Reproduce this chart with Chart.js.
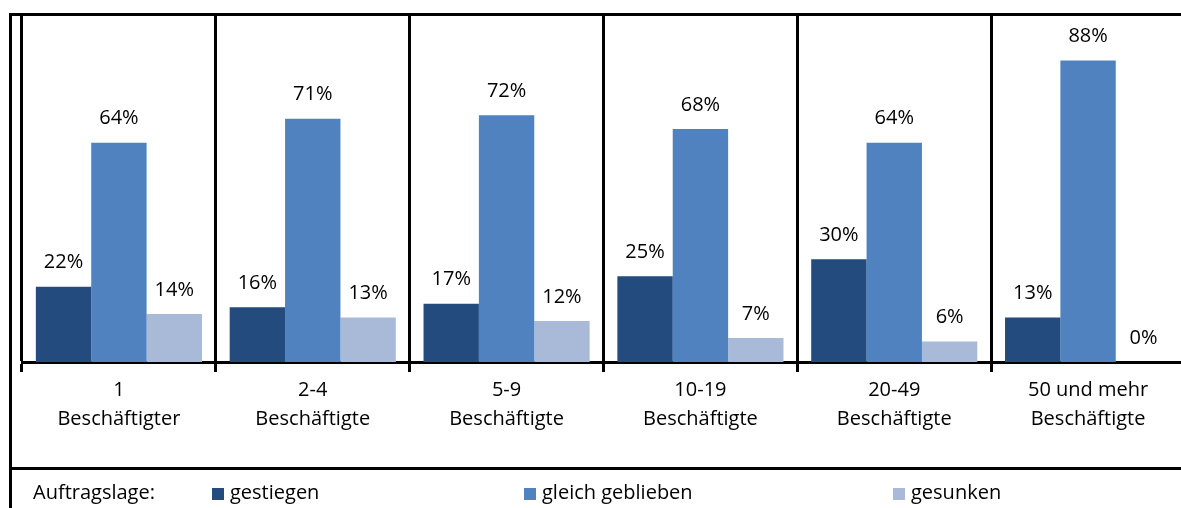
<!DOCTYPE html>
<html>
<head>
<meta charset="utf-8">
<script src="https://cdn.jsdelivr.net/npm/chart.js@4"></script>
<style>
  body { margin: 0; width: 1181px; height: 508px; overflow: hidden; background: #fff; position: relative; font-family: "Open Sans", sans-serif; }
  #chart { position: absolute; left: 0; top: 0; }
  .line { position: absolute; background: #000; }
  .legend-title, .legend-item { position: absolute; top: 478px; font-size: 20px; line-height: 28px; color: #000; white-space: nowrap; }
  .legend-item span { display: inline-block; width: 12px; height: 12px; margin-right: 6px; vertical-align: -1px; }
</style>
</head>
<body>
<canvas id="chart" width="1200" height="508"></canvas>
<div class="line" style="left:9px;top:13px;width:1200px;height:3px"></div>
<div class="line" style="left:9px;top:13px;width:3px;height:500px"></div>
<div class="line" style="left:9px;top:467px;width:1200px;height:3px"></div>
<div class="legend-title" style="left:33px">Auftragslage:</div>
<div id="legend"></div>
<script>
// Beschäftigtengrößenklassen
const categories = [
  ['1', 'Beschäftigter'],
  ['2-4', 'Beschäftigte'],
  ['5-9', 'Beschäftigte'],
  ['10-19', 'Beschäftigte'],
  ['20-49', 'Beschäftigte'],
  ['50 und mehr', 'Beschäftigte']
];
const seriesNames = ['gestiegen', 'gleich geblieben', 'gesunken'];
const gestiegen = [22, 16, 17, 25, 30, 13];
const gleichGeblieben = [64, 71, 72, 68, 64, 88];
const gesunken = [14, 13, 12, 7, 6, 0];

const colors = ['#234b7e', '#4f82be', '#a9bad9'];
const legendLeft = [212, 524, 893]; // x-Position der Legendeneinträge

const valueLabels = {
  id: 'valueLabels',
  afterDatasetsDraw(chart) {
    const ctx = chart.ctx;
    ctx.save();
    ctx.font = '20px "Open Sans"';
    ctx.fillStyle = '#000';
    ctx.textAlign = 'center';
    ctx.textBaseline = 'middle';
    chart.data.datasets.forEach((ds, i) => {
      chart.getDatasetMeta(i).data.forEach((bar, j) => {
        ctx.fillText(ds.data[j] + '%', bar.x, bar.y - 24);
      });
    });
    ctx.restore();
  }
};

new Chart(document.getElementById('chart').getContext('2d'), {
  type: 'bar',
  data: {
    labels: categories,
    datasets: [gestiegen, gleichGeblieben, gesunken].map((d, i) => ({
      label: seriesNames[i],
      data: d,
      backgroundColor: colors[i],
      borderWidth: 0,
      categoryPercentage: 0.857,
      barPercentage: 1.0
    }))
  },
  options: {
    responsive: false,
    animation: false,
    layout: { padding: { top: 16, left: 22, right: 15, bottom: 0 } },
    plugins: { legend: { display: false }, tooltip: { enabled: false } },
    scales: {
      x: {
        grid: { offset: true, color: '#000', lineWidth: 3, tickLength: 10, drawOnChartArea: true },
        border: { color: '#000', width: 3 },
        ticks: { color: '#000', padding: 4, maxRotation: 0, font: { family: 'Open Sans', size: 20, lineHeight: 1.45 } },
        afterFit(scale) { scale.height = 146; }
      },
      y: { display: false, min: 0, max: 101 }
    }
  },
  plugins: [valueLabels]
});

// Legende
const legend = document.getElementById('legend');
seriesNames.forEach((name, i) => {
  const item = document.createElement('div');
  item.className = 'legend-item';
  item.style.left = legendLeft[i] + 'px';
  item.innerHTML = '<span style="background:' + colors[i] + '"></span>' + name;
  legend.appendChild(item);
});
</script>
</body>
</html>
